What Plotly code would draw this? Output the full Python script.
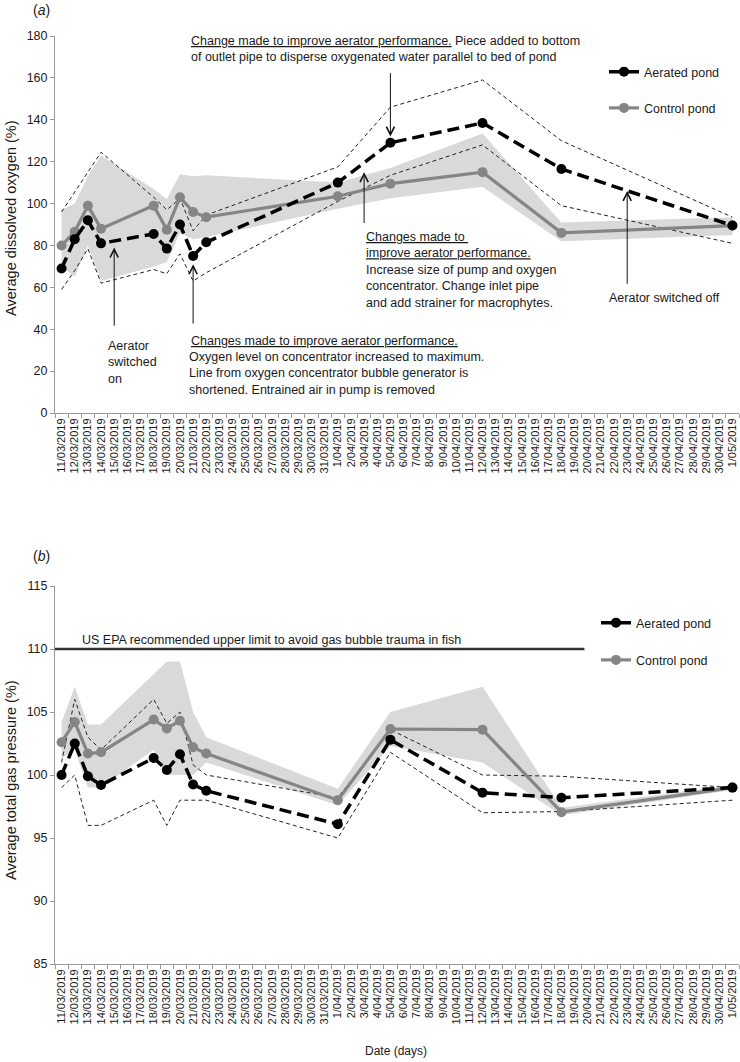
import pandas as pd
import plotly.graph_objects as go

# ---------------- data ----------------
sample_dates = ["2019-03-11", "2019-03-12", "2019-03-13", "2019-03-14", "2019-03-18",
                "2019-03-19", "2019-03-20", "2019-03-21", "2019-03-22", "2019-04-01",
                "2019-04-05", "2019-04-12", "2019-04-18", "2019-05-01"]

# (a) dissolved oxygen (%)
aer_do = [69, 83, 92, 81, 85.5, 78.5, 90, 75, 81.5, 110, 129, 138.5, 116.5, 89.5]
aer_do_hi = [96, 105.5, 115, 124.5, 103, 97, 102.5, 87, 94.5, 117.5, 146, 159, 130, 93.5]
aer_do_lo = [59, 68, 78.5, 62, 68.5, 66.5, 76, 63, 67, 101, 113.5, 128, 99, 81]
ctl_do = [80, 86.5, 99, 88, 99, 87.5, 103, 96, 93.5, 103.5, 109.5, 115, 86, 89.5]
ctl_do_hi = [97, 100, 113, 123, 107, 102, 114, 113, 113.5, 110, 117, 133.5, 91, 93.5]
ctl_do_lo = [70, 65, 80, 63, 70, 72, 86, 83, 84, 97.5, 102.5, 108, 82, 85]

# (b) total gas pressure (%)
aer_tgp = [100, 102.5, 99.9, 99.2, 101.35, 100.4, 101.65, 99.25, 98.75, 96.1, 102.8, 98.6, 98.2, 99.0]
aer_tgp_hi = [101, 106, 103, 102, 106, 104.1, 105, 100.8, 100, 98.2, 103.6, 100, 99.9, 99]
aer_tgp_lo = [99, 100, 96, 96, 98, 96, 98, 98, 98, 95, 101.8, 97, 97.1, 98]
ctl_tgp = [102.6, 104.2, 101.7, 101.8, 104.4, 103.7, 104.3, 102.2, 101.7, 98.0, 103.65, 103.6, 97.05, 99.0]
ctl_tgp_hi = [104.2, 107, 104, 104, 108, 109, 109, 105, 103, 98.9, 105, 107, 97.4, 99.2]
ctl_tgp_lo = [101.3, 102, 99, 99, 102, 100, 100, 100, 101, 97.6, 102.3, 101, 96.8, 98.8]

epa_limit = 110

# all days on the category-like date axis
all_days = pd.date_range("2019-03-11", "2019-05-01", freq="D")
tick_vals = [d.strftime("%Y-%m-%d") for d in all_days]
tick_text = [f"{d.day}/{d.month:02d}/{d.year}" for d in all_days]

# ---------------- style ----------------
FONT = "Liberation Sans, Arial, sans-serif"
AX_COL = "#9a9a9a"
TXT = "#1a1a1a"
BAND = "#d9d9d9"
CTL_COL = "#858585"

W, H = 740, 1062
ML, MR, MT, MB = 55, 1, 36, 98
PW, PH = W - ML - MR, H - MT - MB


def px(x, y):
    return (x - ML) / PW, (H - MB - y) / PH


fig = go.Figure()


def add_panel(xa, ya, leg, hi_c, lo_c, mean_c, hi_a, lo_a, mean_a):
    fig.add_trace(go.Scatter(x=sample_dates, y=lo_c, mode="lines", line=dict(width=0),
                             hoverinfo="skip", showlegend=False, xaxis=xa, yaxis=ya))
    fig.add_trace(go.Scatter(x=sample_dates, y=hi_c, mode="lines", line=dict(width=0),
                             fill="tonexty", fillcolor=BAND, hoverinfo="skip",
                             showlegend=False, xaxis=xa, yaxis=ya))
    for env in (hi_a, lo_a):
        fig.add_trace(go.Scatter(x=sample_dates, y=env, mode="lines",
                                 line=dict(color="#222", width=1, dash="4px,3px"),
                                 showlegend=False, xaxis=xa, yaxis=ya))
    fig.add_trace(go.Scatter(x=sample_dates, y=mean_c, mode="lines+markers", name="Control pond",
                             line=dict(color=CTL_COL, width=3.2),
                             marker=dict(color=CTL_COL, size=10),
                             legend=leg, legendrank=2, legendgroup=leg + "c",
                             xaxis=xa, yaxis=ya))
    fig.add_trace(go.Scatter(x=sample_dates, y=mean_a, mode="lines+markers", name="Aerated pond",
                             line=dict(color="black", width=3.5, dash="12px,6px"),
                             marker=dict(color="black", size=10),
                             legend=leg, legendrank=1, legendgroup=leg + "a",
                             xaxis=xa, yaxis=ya))


add_panel("x", "y", "legend", ctl_do_hi, ctl_do_lo, ctl_do, aer_do_hi, aer_do_lo, aer_do)
add_panel("x2", "y2", "legend2", ctl_tgp_hi, ctl_tgp_lo, ctl_tgp, aer_tgp_hi, aer_tgp_lo, aer_tgp)

xr = ["2019-03-10 12:00", "2019-05-01 12:00"]
xcommon = dict(type="date", range=xr, tickmode="array", tickvals=tick_vals, ticktext=tick_text,
               tickangle=-90, ticks="", showline=True, linecolor=AX_COL, linewidth=1,
               showgrid=False, zeroline=False, automargin=False,
               tickfont=dict(family=FONT, size=11, color=TXT),
               minor=dict(ticks="outside", tick0="2019-03-10 12:00", dtick=86400000,
                          ticklen=4, tickcolor=AX_COL, showgrid=False))
ycommon = dict(showline=True, linecolor=AX_COL, linewidth=1, ticks="outside", ticklen=4,
               tickcolor=AX_COL, showgrid=False, zeroline=False, automargin=False,
               tickfont=dict(family=FONT, size=12.5, color=TXT))

ya_bot = px(0, 413)[1]
yb_top = px(0, 586)[1]

fig.update_layout(
    width=W, height=H,
    margin=dict(l=ML, r=MR, t=MT, b=MB, autoexpand=False),
    paper_bgcolor="white", plot_bgcolor="white",
    font=dict(family=FONT, size=12.5, color=TXT),
    xaxis=dict(domain=[0, 1], anchor="y", **xcommon),
    yaxis=dict(domain=[ya_bot, 1], anchor="x", range=[0, 180], dtick=20, **ycommon),
    xaxis2=dict(domain=[0, 1], anchor="y2", **xcommon),
    yaxis2=dict(domain=[0, yb_top], anchor="x2", range=[85, 115], dtick=5, **ycommon),
    legend=dict(x=px(604, 0)[0], y=px(0, 57)[1], xanchor="left", yanchor="top",
                bgcolor="rgba(0,0,0,0)", tracegroupgap=17,
                font=dict(family=FONT, size=12.5, color=TXT)),
    legend2=dict(x=px(596, 0)[0], y=px(0, 608)[1], xanchor="left", yanchor="top",
                 bgcolor="rgba(0,0,0,0)", tracegroupgap=18,
                 font=dict(family=FONT, size=12.5, color=TXT)),
    showlegend=True,
)

# EPA limit line
fig.add_shape(type="line", xref="x2", yref="y2", x0=xr[0], x1="2019-04-19 18:00",
              y0=epa_limit, y1=epa_limit, line=dict(color="#333", width=2.5))

anns = []


def text_ann(x, y, text, xanchor="left", yanchor="middle", size=12.5, angle=0, align="left"):
    xp, yp = px(x, y)
    anns.append(dict(xref="paper", yref="paper", x=xp, y=yp, text=text, showarrow=False,
                     xanchor=xanchor, yanchor=yanchor, align=align, textangle=angle,
                     font=dict(family=FONT, size=size, color=TXT)))


def arrow(xref, yref, xdate, yhead, ytail):
    anns.append(dict(xref=xref, yref=yref, x=xdate, y=yhead, axref=xref, ayref=yref,
                     ax=xdate, ay=ytail, text="", showarrow=True, arrowhead=5,
                     arrowsize=1.6, arrowwidth=1, arrowcolor="#111", standoff=0))


# panel labels and axis titles
text_ann(41, 10, "(<i>a</i>)", xanchor="center", size=14)
text_ann(41, 556, "(<i>b</i>)", xanchor="center", size=14)
text_ann(11, 218, "Average dissolved oxygen (%)", xanchor="center", size=14.5, angle=-90)
text_ann(11, 780, "Average total gas pressure (%)", xanchor="center", size=14.5, angle=-90)
text_ann(396, 1051, "Date (days)", xanchor="center", size=12)

# panel (a) notes
text_ann(189, 49.5, "<u>Change made to improve aerator performance.</u> Piece added to bottom"
                    "<br>of outlet pipe to disperse oxygenated water parallel to bed of pond")
text_ann(364, 244.5, "<u>Changes made to </u><br><u>improve aerator performance.</u>")
text_ann(364, 286, "Increase size of pump and oxygen<br>concentrator. Change inlet pipe"
                   "<br>and add strainer for macrophytes.")
text_ann(607, 298, "Aerator switched off")
text_ann(106, 363, "Aerator<br>switched<br>on")
text_ann(189, 341, "<u>Changes made to improve aerator performance.</u>")
text_ann(187, 373, "Oxygen level on concentrator increased to maximum."
                   "<br>Line from oxygen concentrator bubble generator is"
                   "<br>shortened. Entrained air in pump is removed")

arrow("x", "y", "2019-04-05", 132, 163)
arrow("x", "y", "2019-04-03", 115, 90)
arrow("x", "y", "2019-04-23", 106, 61)
arrow("x", "y", "2019-03-15", 79, 41)
arrow("x", "y", "2019-03-21", 71, 42)

# panel (b) note
text_ann(80, 640, "US EPA recommended upper limit to avoid gas bubble trauma in fish")

fig.update_layout(annotations=anns)
fig.write_html("out.html", config={"displayModeBar": False},
               post_script="document.body.style.margin='0';")
